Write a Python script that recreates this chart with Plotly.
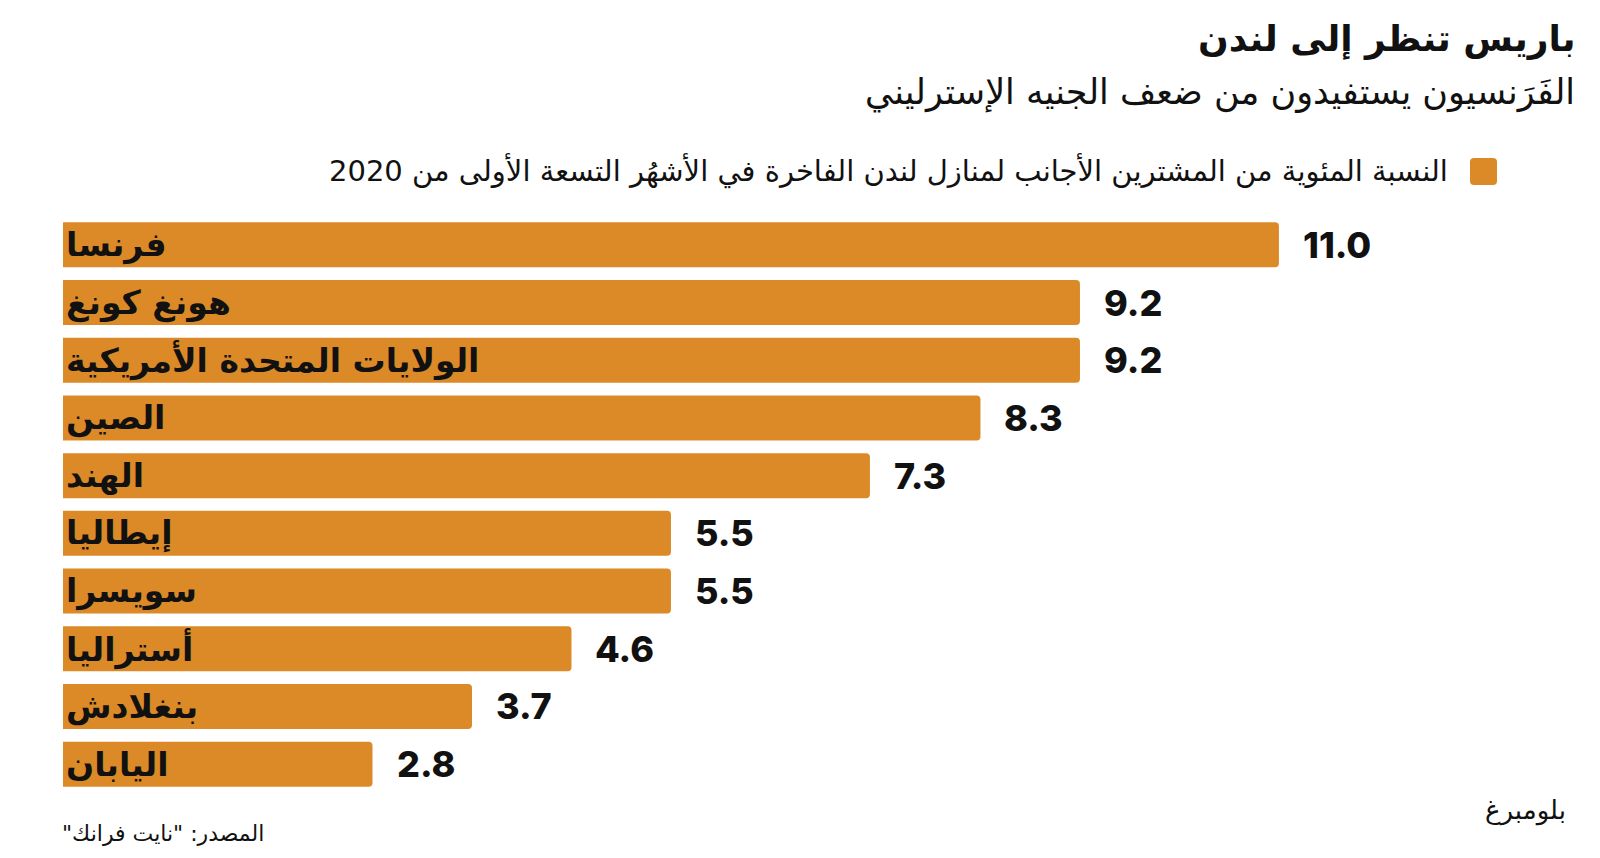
import plotly.graph_objects as go

countries = ["فرنسا", "هونغ كونغ", "الولايات المتحدة الأمريكية", "الصين", "الهند",
             "إيطاليا", "سويسرا", "أستراليا", "بنغلادش", "اليابان"]
shares = [11.0, 9.2, 9.2, 8.3, 7.3, 5.5, 5.5, 4.6, 3.7, 2.8]

title = "باريس تنظر إلى لندن"
subtitle = "الفَرَنسيون يستفيدون من ضعف الجنيه الإسترليني"
legend_text = "النسبة المئوية من المشترين الأجانب لمنازل لندن الفاخرة في الأشهُر التسعة الأولى من 2020"
source = "\u200fالمصدر: \"نايت فرانك\"\u200f"
brand = "بلومبرغ"

BAR = "#DB8A27"
AR = "DejaVu Sans"

# the page body adds an 8px margin, so the figure is a bit smaller than the window
OFF = 8
W, H = 1592, 850
L, R, T, B = 55, 100, 208, 65
pw, ph = W - L - R, H - T - B


def px(x):
    # page pixel -> paper x
    return (x - OFF - L) / pw


def py(y):
    # page pixel -> paper y
    return (H - B - (y - OFF)) / ph


fig = go.Figure()
fig.add_trace(go.Bar(
    x=shares, y=countries, orientation="h",
    marker=dict(color=BAR, cornerradius=4, line=dict(width=0)),
    hoverinfo="x+y", showlegend=False,
))

# country names inside bars, values just after the bar end
for c, v in zip(countries, shares):
    fig.add_annotation(x=0, y=c, text=c, showarrow=False, xanchor="left", xshift=1,
                       font=dict(family=AR, size=33, color="#111", weight="bold"))
    fig.add_annotation(x=v, y=c, text=f"{v:.1f}", showarrow=False, xanchor="left", xshift=22,
                       font=dict(family="Inter", size=36, color="#111", weight=800))

# header / footer
fig.add_annotation(xref="paper", yref="paper", x=px(1577), y=py(39), text=title,
                   showarrow=False, xanchor="right", yanchor="middle",
                   font=dict(family=AR, size=36, color="#111", weight="bold"))
fig.add_annotation(xref="paper", yref="paper", x=px(1577), y=py(92), text=subtitle,
                   showarrow=False, xanchor="right", yanchor="middle",
                   font=dict(family=AR, size=35, color="#111"))
fig.add_annotation(xref="paper", yref="paper", x=px(1450), y=py(170), text=legend_text,
                   showarrow=False, xanchor="right", yanchor="middle",
                   font=dict(family=AR, size=29, color="#111"))
fig.add_annotation(xref="paper", yref="paper", x=px(60), y=py(833), text=source,
                   showarrow=False, xanchor="left", yanchor="middle",
                   font=dict(family=AR, size=22, color="#111"))
fig.add_annotation(xref="paper", yref="paper", x=px(1568), y=py(810), text=brand,
                   showarrow=False, xanchor="right", yanchor="middle",
                   font=dict(family=AR, size=26, color="#111"))

# legend swatch (rounded square)
x0, x1, y0, y1 = px(1470), px(1497), py(185), py(158)
rx, ry = 4 / pw, 4 / ph
path = (f"M {x0 + rx} {y0} L {x1 - rx} {y0} Q {x1} {y0} {x1} {y0 + ry} "
        f"L {x1} {y1 - ry} Q {x1} {y1} {x1 - rx} {y1} L {x0 + rx} {y1} "
        f"Q {x0} {y1} {x0} {y1 - ry} L {x0} {y0 + ry} Q {x0} {y0} {x0 + rx} {y0} Z")
fig.add_shape(type="path", xref="paper", yref="paper", path=path,
              fillcolor=BAR, line=dict(width=0))

fig.update_layout(
    width=W, height=H,
    margin=dict(l=L, r=R, t=T, b=B),
    paper_bgcolor="white", plot_bgcolor="white",
    bargap=0.22,
    xaxis=dict(range=[0, 13], visible=False, fixedrange=True),
    yaxis=dict(autorange="reversed", visible=False, fixedrange=True),
)

fig.write_html("out.html")
